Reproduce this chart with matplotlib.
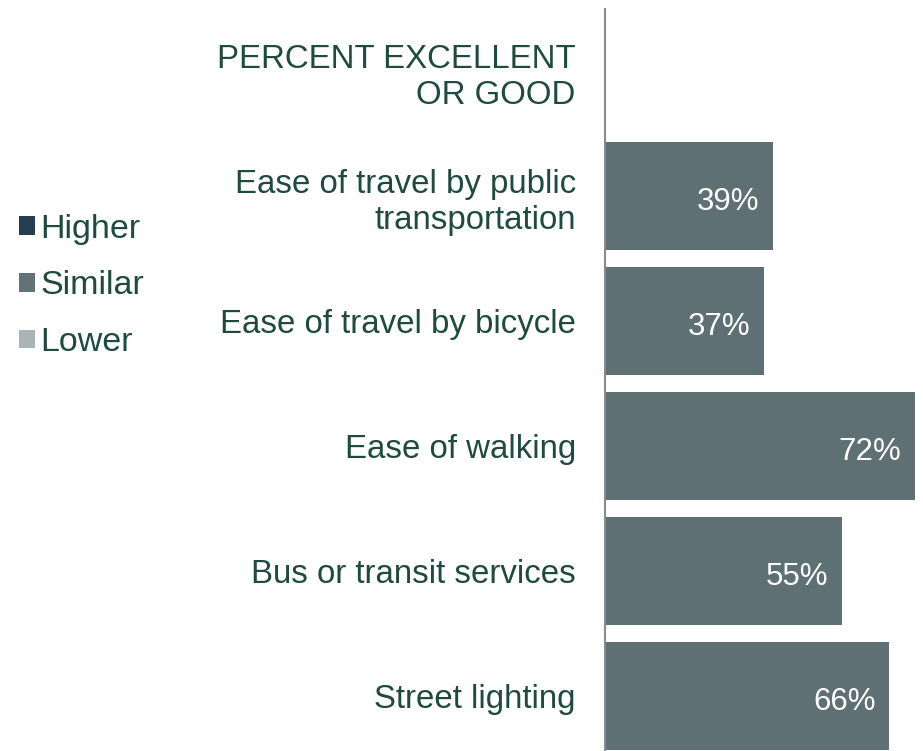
import matplotlib
matplotlib.use("Agg")
import matplotlib.pyplot as plt
from matplotlib.patches import Patch

categories = ["Ease of travel by public\ntransportation", "Ease of travel by bicycle",
              "Ease of walking", "Bus or transit services", "Street lighting"]
values = [39, 37, 72, 55, 66]
header = "PERCENT EXCELLENT\nOR GOOD"
legend_labels = ["Higher", "Similar", "Lower"]
legend_colors = ["#263e50", "#627378", "#aab3b8"]
bar_color = "#5f7075"
text_color = "#1f4a3e"

plt.rcParams['font.family'] = ['Liberation Sans', 'DejaVu Sans']

W, H = 923, 751
fig = plt.figure(figsize=(W/100, H/100), dpi=100)
x0 = 605
ax = fig.add_axes([x0/W, 0, 1 - x0/W, 1 - 8.5/H])
ax.set_xlim(0, (W - x0)/4.31)
ax.set_ylim(5.44, -0.5)

pos = list(range(1, len(categories) + 1))
ax.barh(pos, values, height=0.864, color=bar_color)
for p, v in zip(pos, values):
    ax.annotate(f"{v}%", (v, p), xytext=(-10, -4), textcoords="offset points",
                ha="right", va="center", color="white", fontsize=22.5)

for s in ["top", "right", "bottom"]:
    ax.spines[s].set_visible(False)
ax.spines["left"].set_color("#8a8a8a")
ax.spines["left"].set_linewidth(1.5)
ax.set_xticks([])
ax.set_yticks([0] + pos)
ax.set_yticklabels([header] + categories, fontsize=23.8, color=text_color, linespacing=1.25)
ax.tick_params(axis="y", length=0, pad=21)

handles = [Patch(facecolor=c, edgecolor="none") for c in legend_colors]
leg = fig.legend(handles, legend_labels, loc="center left", bbox_to_anchor=(0.021, 1 - 286/H),
                 frameon=False, fontsize=24.5, handlelength=0.45, handleheight=0.45,
                 handletextpad=0.17, labelspacing=0.76, borderaxespad=0, borderpad=0)
for t in leg.get_texts():
    t.set_color(text_color)

fig.savefig("out.png", dpi=100)
